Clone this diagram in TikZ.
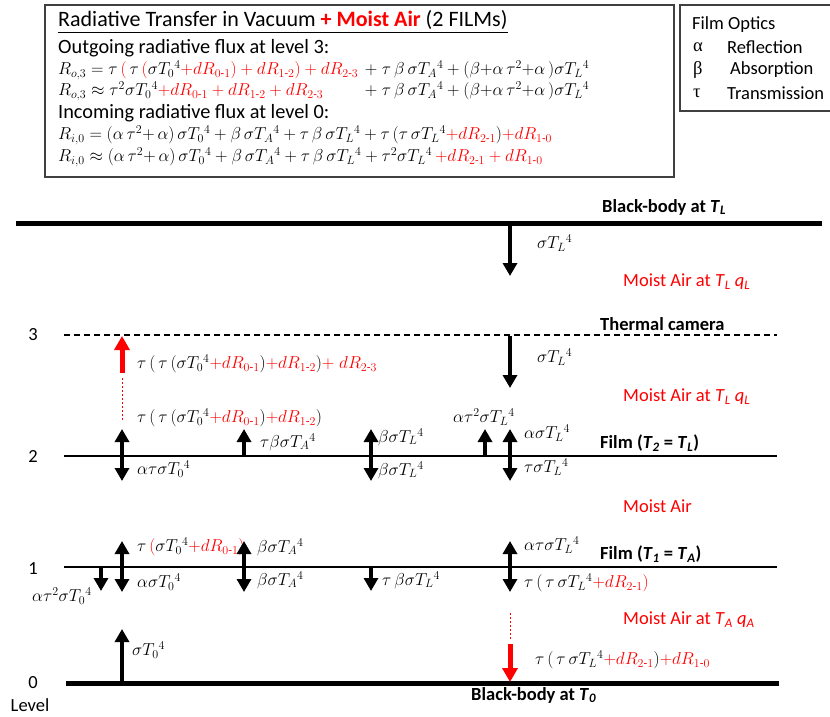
\documentclass[tikz,border=0pt]{standalone}
\usepackage{fontspec}
\setmainfont{Carlito}
\newfontfamily\grk{Liberation Serif}
\usepackage{amsmath}
\usetikzlibrary{arrows.meta}
\definecolor{rd}{RGB}{255,0,0}
\definecolor{boxgray}{RGB}{64,64,64}
\newcommand{\redt}[1]{\textcolor{rd}{#1}}
\newcommand{\rmath}[1]{\textcolor{rd}{$#1$}}
\newcommand{\bmath}[1]{\textcolor{black}{$#1$}}
\newcommand{\hy}{\text{-}}
\newcommand{\sT}[1]{\sigma T_{#1}{}^{4}}
\begin{document}
\begin{tikzpicture}[x=1pt,y=-1pt,
  every node/.style={font=\fontsize{18.5}{22}\selectfont, inner sep=0pt},
  lbl/.style={anchor=west},
  mlbl/.style={anchor=west, font=\fontsize{17.5}{21}\selectfont},
  boxtxt/.style={anchor=west, font=\fontsize{20.3}{24}\selectfont},
  fml/.style={anchor=west, font=\fontsize{17}{20}\selectfont},
  bbline/.style={line width=5pt},
  filmline/.style={line width=1.8pt},
  camline/.style={line width=1.4pt, dash pattern=on 6pt off 4pt},
  uparr/.style={line width=4.5pt, -{Triangle[width=14pt,length=13pt]}},
  dblarr/.style={line width=4.5pt, {Triangle[width=14pt,length=13pt]}-{Triangle[width=14pt,length=13pt]}},
  redarr/.style={line width=5pt, rd, -{Triangle[width=15pt,length=14pt]}},
  reddot/.style={rd, line width=1pt, dash pattern=on 2pt off 2pt},
  boxframe/.style={draw=boxgray, line width=1.3pt},
]
\useasboundingbox (0,0) rectangle (830,717);

% ---------- top boxes ----------
\draw[boxframe] (45,5) rectangle (674,177);
\draw[boxframe] (832,5) -- (680,5) -- (680,111) -- (832,111);

\node[lbl, font=\fontsize{22}{26}\selectfont] (title) at (58,22)
  {\underline{Radiative Transfer in Vacuum \textbf{\redt{+ Moist Air}} (2 FILMs)}};
\node[boxtxt] (out) at (58,48) {Outgoing radiative flux at level 3:};
\node[fml] (ro3a) at (58,70)
  {\bmath{R_{o,3} = \tau\,}\rmath{(}\bmath{\,\tau\,}\rmath{(}\bmath{\sT{0}}\rmath{+dR_{0\hy1})+dR_{1\hy2})+dR_{2\hy3}}};
\node[anchor=base west, font=\fontsize{17}{20}\selectfont] (ro3b) at ([xshift=6pt]ro3a.base east)
  {$+\;\tau\,\beta\,\sT{A} + (\beta{+}\alpha\,\tau^2{+}\alpha\,)\sT{L}$};
\node[fml] (ro3c) at (58,91)
  {\bmath{R_{o,3} \approx \tau^2\sT{0}}\rmath{+dR_{0\hy1}+dR_{1\hy2}+dR_{2\hy3}}};
\node[anchor=base west, font=\fontsize{17}{20}\selectfont] (ro3d) at (ro3b.base west |- ro3c.base)
  {$+\;\tau\,\beta\,\sT{A} + (\beta{+}\alpha\,\tau^2{+}\alpha\,)\sT{L}$};
\node[boxtxt] (inc) at (58,113) {Incoming radiative flux at level 0:};
\node[fml] (ri0a) at (58,135)
  {\bmath{R_{i,0} = (\alpha\,\tau^2{+}\,\alpha)\,\sT{0} + \beta\,\sT{A} + \tau\,\beta\,\sT{L} + \tau\,(\tau\,\sT{L}}\rmath{+dR_{2\hy1}}\bmath{)}\rmath{+dR_{1\hy0}}};
\node[fml] (ri0b) at (58,157)
  {\bmath{R_{i,0} \approx (\alpha\,\tau^2{+}\,\alpha)\,\sT{0} + \beta\,\sT{A} + \tau\,\beta\,\sT{L} + \tau^2\sT{L}}\,\rmath{+dR_{2\hy1}+dR_{1\hy0}}};

\node[lbl] (fo) at (692,25) {Film Optics};
\node[lbl] (fa) at (693,47) {\grk α};
\node[lbl] (fat) at (727,47) {Reflection};
\node[lbl] (fb) at (693,70) {\grk β};
\node[lbl] (fbt) at (730,70) {Absorption};
\node[lbl] (ft) at (693,93) {\grk τ};
\node[lbl] (ftt) at (727,93) {Transmission};

% ---------- levels ----------
\coordinate (bbLw) at (16,223);  \coordinate (bbLe) at (822,223);
\coordinate (camw) at (64,335);  \coordinate (came) at (777,335);
\coordinate (f2w) at (64,456);   \coordinate (f2e) at (777,456);
\coordinate (f1w) at (64,567);   \coordinate (f1e) at (777,567);
\coordinate (bb0w) at (66,683);  \coordinate (bb0e) at (779,683);
\draw[bbline] (bbLw) -- (bbLe);
\draw[camline] (camw) -- (came);
\draw[filmline] (f2w) -- (f2e);
\draw[filmline] (f1w) -- (f1e);
\draw[bbline] (bb0w) -- (bb0e);

\node (l3) at (33,335) {3};
\node (l2) at (33,456) {2};
\node (l1) at (33,569) {1};
\node (l0) at (33,683) {0};
\node (lv) at (30,705) {Level};

\node[lbl] (bbL) at (602,207) {\textbf{Black-body at \textit{T}\textsubscript{\textit{L}}}};
\node[lbl] (cam) at (600,324) {\textbf{Thermal camera}};
\node[lbl] (film2) at (600,443) {\textbf{Film (\textit{T}\textsubscript{\textit{2}} = \textit{T}\textsubscript{\textit{L}})}};
\node[lbl] (film1) at (600,554) {\textbf{Film (\textit{T}\textsubscript{\textit{1}} = \textit{T}\textsubscript{\textit{A}})}};
\node[lbl] (bb0) at (471,695) {\textbf{Black-body at \textit{T}\textsubscript{\textit{0}}}};

\node[lbl, rd] (ma1) at (623,282) {Moist Air at \textit{T}\textsubscript{\textit{L}} \textit{q}\textsubscript{\textit{L}}};
\node[lbl, rd] (ma2) at (623,397) {Moist Air at \textit{T}\textsubscript{\textit{L}} \textit{q}\textsubscript{\textit{L}}};
\node[lbl, rd] (ma3) at (623,506) {Moist Air};
\node[lbl, rd] (ma4) at (623,620) {Moist Air at \textit{T}\textsubscript{\textit{A}} \textit{q}\textsubscript{\textit{A}}};

% ---------- arrows ----------
\coordinate (a1s) at (510,224); \coordinate (a1e) at (510,276);
\draw[uparr] (a1s) -- (a1e);
\node[mlbl] (t1) at (537,243) {$\sT{L}$};
\coordinate (a2s) at (510,336); \coordinate (a2e) at (510,388);
\draw[uparr] (a2s) -- (a2e);
\node[mlbl] (t2) at (537,357) {$\sT{L}$};
\coordinate (r1s) at (122,373); \coordinate (r1e) at (122,336);
\coordinate (r1d) at (122,378); \coordinate (r1f) at (122,421);
\draw[redarr] (r1s) -- (r1e);
\draw[reddot] (r1d) -- (r1f);
\node[mlbl] (t3) at (137,364) {\bmath{\tau\,(\,\tau\,(\sT{0}}\rmath{+dR_{0\hy1}}\bmath{)}\rmath{+dR_{1\hy2}}\bmath{)}\rmath{+\;dR_{2\hy3}}};
\node[mlbl] (t4) at (137,418) {\bmath{\tau\,(\,\tau\,(\sT{0}}\rmath{+dR_{0\hy1}}\bmath{)}\rmath{+dR_{1\hy2}}\bmath{)}};

% film 2 arrows
\coordinate (b1s) at (122,429); \coordinate (b1e) at (122,481);
\draw[dblarr] (b1s) -- (b1e);
\node[mlbl] (t5) at (137,469) {$\alpha\tau\sT{0}$};
\coordinate (b2s) at (244,457); \coordinate (b2e) at (244,429);
\draw[uparr] (b2s) -- (b2e);
\node[mlbl] (t6) at (260,442) {$\tau\beta\sT{A}$};
\coordinate (b3s) at (371,429); \coordinate (b3e) at (371,481);
\draw[dblarr] (b3s) -- (b3e);
\node[mlbl] (t7) at (378,437) {$\beta\sT{L}$};
\node[mlbl] (t8) at (378,470) {$\beta\sT{L}$};
\coordinate (b4s) at (485,457); \coordinate (b4e) at (485,429);
\draw[uparr] (b4s) -- (b4e);
\node[mlbl] (t9) at (453,417) {$\alpha\tau^2\sT{L}$};
\coordinate (b5s) at (510,429); \coordinate (b5e) at (510,481);
\draw[dblarr] (b5s) -- (b5e);
\node[mlbl] (t10) at (524,433) {$\alpha\sT{L}$};
\node[mlbl] (t11) at (524,467) {$\tau\sT{L}$};

% film 1 arrows
\coordinate (c0s) at (101,566); \coordinate (c0e) at (101,591);
\draw[uparr] (c0s) -- (c0e);
\node[mlbl] (t12) at (32,596) {$\alpha\tau^2\sT{0}$};
\coordinate (c1s) at (122,541); \coordinate (c1e) at (122,592);
\draw[dblarr] (c1s) -- (c1e);
\node[mlbl] (t13) at (137,547) {\bmath{\tau\,}\rmath{(}\bmath{\sT{0}}\rmath{+dR_{0\hy1})}};
\node[mlbl] (t14) at (137,582) {$\alpha\sT{0}$};
\coordinate (c2s) at (244,541); \coordinate (c2e) at (244,592);
\draw[dblarr] (c2s) -- (c2e);
\node[mlbl] (t15) at (257,547) {$\beta\sT{A}$};
\node[mlbl] (t16) at (257,580) {$\beta\sT{A}$};
\coordinate (c3s) at (371,566); \coordinate (c3e) at (371,591);
\draw[uparr] (c3s) -- (c3e);
\node[mlbl] (t17) at (382,580) {$\tau\,\beta\sT{L}$};
\coordinate (c4s) at (510,541); \coordinate (c4e) at (510,592);
\draw[dblarr] (c4s) -- (c4e);
\node[mlbl] (t18) at (524,545) {$\alpha\tau\sT{L}$};
\node[mlbl] (t19) at (524,583) {\bmath{\tau\,(\,\tau\,\sT{L}}\rmath{+dR_{2\hy1})}};

% bottom arrows
\coordinate (d1s) at (122,684); \coordinate (d1e) at (122,629);
\draw[uparr] (d1s) -- (d1e);
\node[mlbl] (t20) at (132,650) {$\sT{0}$};
\coordinate (d2a) at (510,613); \coordinate (d2b) at (510,640);
\coordinate (d2s) at (510,644); \coordinate (d2e) at (510,682);
\draw[reddot] (d2a) -- (d2b);
\draw[redarr] (d2s) -- (d2e);
\node[mlbl] (t21) at (535,660) {\bmath{\tau\,(\,\tau\,\sT{L}}\rmath{+dR_{2\hy1}}\bmath{)}\rmath{+dR_{1\hy0}}};
\end{tikzpicture}
\end{document}
